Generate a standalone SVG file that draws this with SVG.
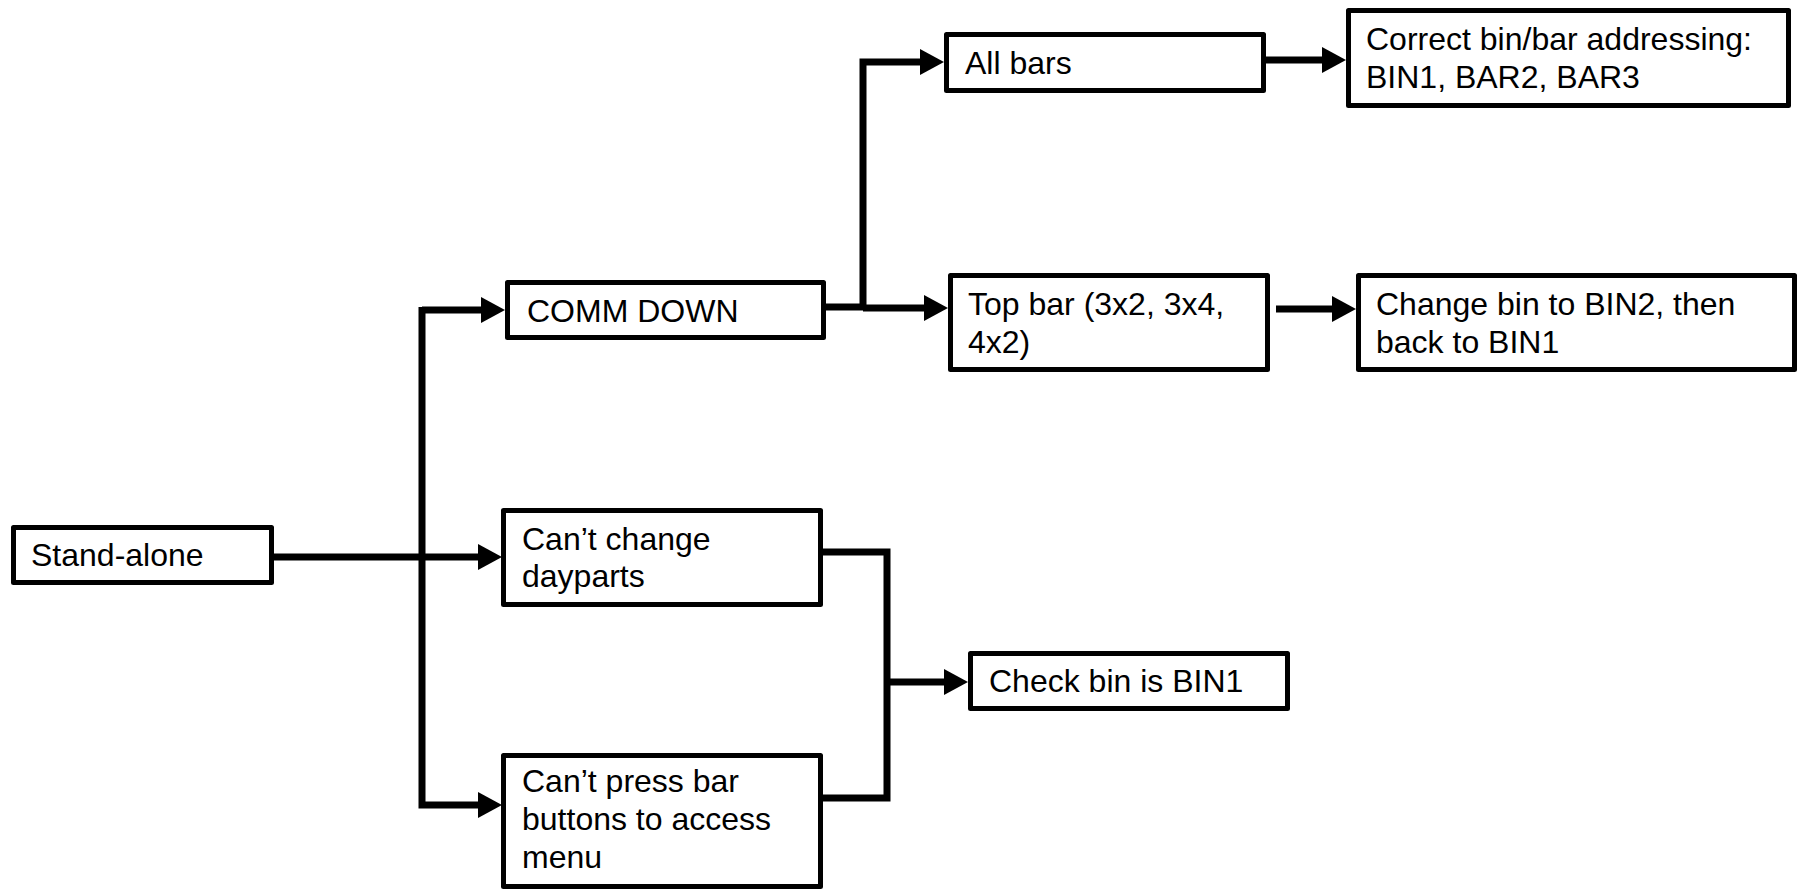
<svg xmlns="http://www.w3.org/2000/svg" width="1800" height="893" viewBox="0 0 1800 893">
<style>
.box{fill:#fff;stroke:#000;stroke-width:5;stroke-linejoin:round}
.t{font-family:"Liberation Sans",Arial,sans-serif;font-size:32px;fill:#000}
.c{fill:none;stroke:#000;stroke-width:7;stroke-linejoin:miter}
</style>
<defs>
<marker id="ah" markerUnits="userSpaceOnUse" viewBox="0 -13 24 26" refX="0" refY="0" markerWidth="24" markerHeight="26" orient="auto">
<path d="M0,-13 L24,0 L0,13 Z" fill="#000"/>
</marker>
</defs>
<rect width="1800" height="893" fill="#fff"/>
<g id="connectors">
<path class="c" d="M274,557 H478" marker-end="url(#ah)"/>
<path class="c" d="M422,307 V805 H478" marker-end="url(#ah)"/>
<path class="c" d="M422,310 H481" marker-end="url(#ah)"/>
<path class="c" d="M825,307 H863 V62 H920" marker-end="url(#ah)"/>
<path class="c" d="M863,308 H924" marker-end="url(#ah)"/>
<path class="c" d="M1266,60 H1322" marker-end="url(#ah)"/>
<path class="c" d="M1276,309 H1332" marker-end="url(#ah)"/>
<path class="c" d="M823,552 H887 V798 H823"/>
<path class="c" d="M887,682 H944" marker-end="url(#ah)"/>
</g>
<g id="standalone">
<rect class="box" x="13.5" y="527.5" width="258" height="55"/>
<text class="t" x="31" y="566">Stand-alone</text>
</g>
<g id="commdown">
<rect class="box" x="507.5" y="282.5" width="316" height="55"/>
<text class="t" x="527" y="322">COMM DOWN</text>
</g>
<g id="dayparts">
<rect class="box" x="503.5" y="510.5" width="317" height="94"/>
<text class="t" x="522" y="550">Can’t change</text>
<text class="t" x="522" y="587">dayparts</text>
</g>
<g id="barbuttons">
<rect class="box" x="503.5" y="755.5" width="317" height="131"/>
<text class="t" x="522" y="792">Can’t press bar</text>
<text class="t" x="522" y="830">buttons to access</text>
<text class="t" x="522" y="868">menu</text>
</g>
<g id="checkbin">
<rect class="box" x="970.5" y="653.5" width="317" height="55"/>
<text class="t" x="989" y="692">Check bin is BIN1</text>
</g>
<g id="allbars">
<rect class="box" x="946.5" y="34.5" width="317" height="56"/>
<text class="t" x="965" y="74">All bars</text>
</g>
<g id="topbar">
<rect class="box" x="950.5" y="275.5" width="317" height="94"/>
<text class="t" x="968" y="315">Top bar (3x2, 3x4,</text>
<text class="t" x="968" y="353">4x2)</text>
</g>
<g id="correct">
<rect class="box" x="1348.5" y="10.5" width="440" height="95"/>
<text class="t" x="1366" y="50">Correct bin/bar addressing:</text>
<text class="t" x="1366" y="88">BIN1, BAR2, BAR3</text>
</g>
<g id="changebin">
<rect class="box" x="1358.5" y="275.5" width="436" height="94"/>
<text class="t" x="1376" y="315">Change bin to BIN2, then</text>
<text class="t" x="1376" y="353">back to BIN1</text>
</g>
</svg>
